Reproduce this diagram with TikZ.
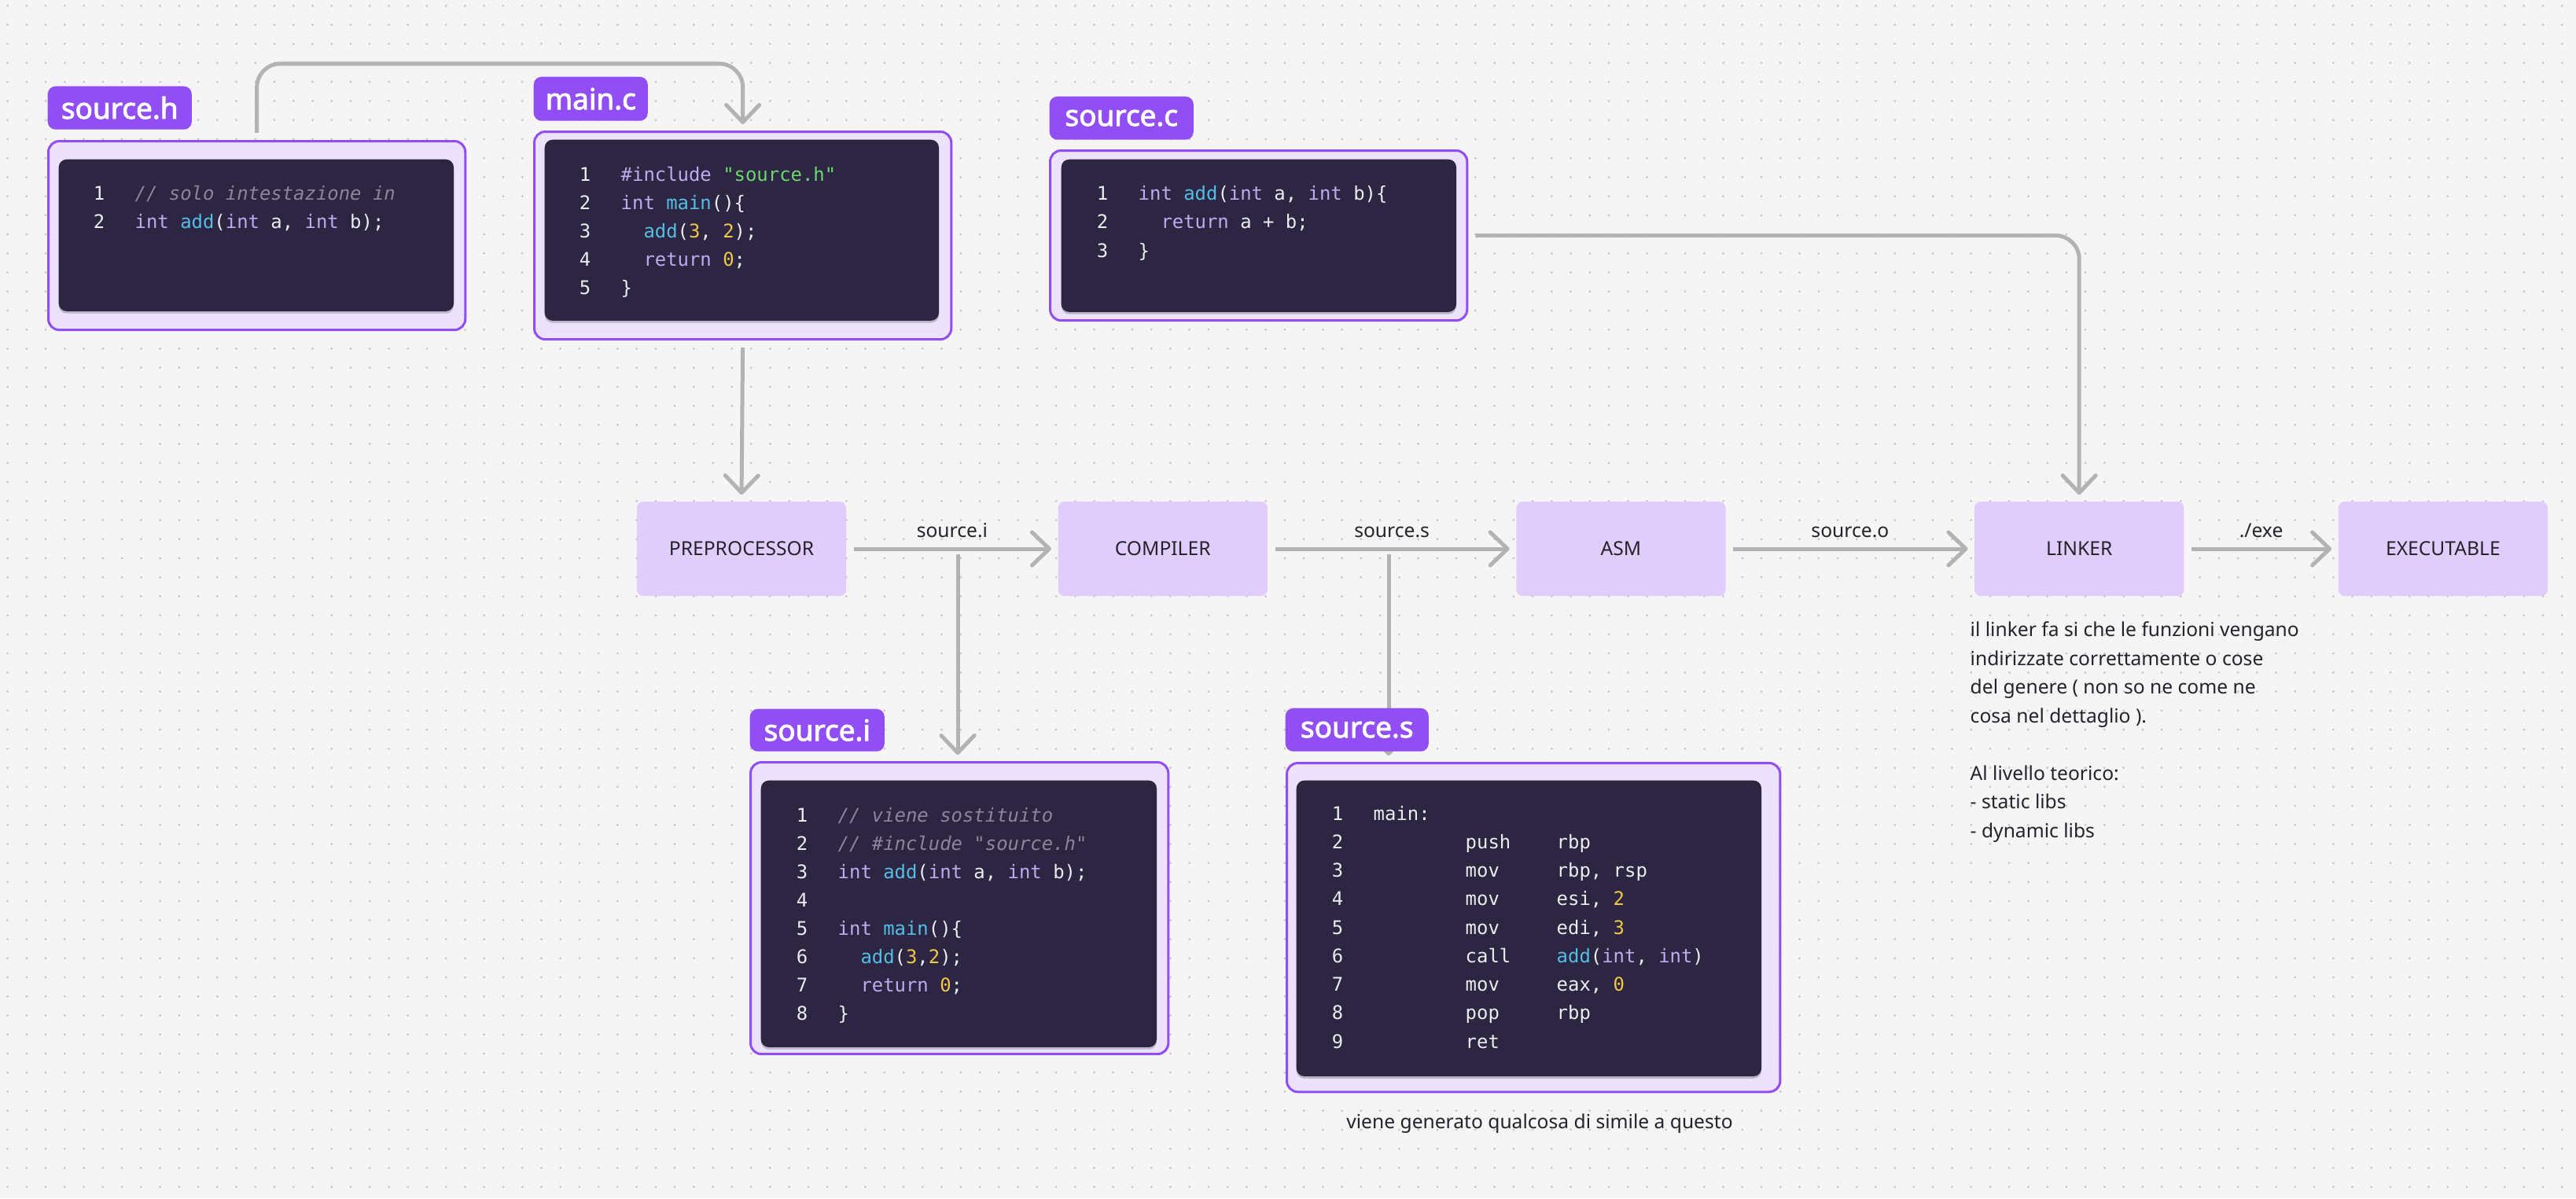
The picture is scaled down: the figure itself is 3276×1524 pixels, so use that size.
\documentclass[tikz,border=0pt]{standalone}
\usepackage{fontspec}
\setmainfont{Noto Sans}[AutoFakeBold=2.5]
\setmonofont{DejaVu Sans Mono}
\usetikzlibrary{positioning,arrows.meta,shadows}
\definecolor{pgBack}{RGB}{245,245,245}
\definecolor{pgDot}{RGB}{196,196,196}
\definecolor{pgPurple}{RGB}{146,78,245}
\definecolor{pgPanel}{RGB}{236,226,252}
\definecolor{pgStage}{RGB}{224,205,251}
\definecolor{pgDark}{RGB}{45,38,66}
\definecolor{pgArrow}{RGB}{179,179,179}
\definecolor{pgInk}{RGB}{38,34,44}
\definecolor{cdText}{RGB}{236,236,240}
\definecolor{cdKw}{RGB}{190,170,240}
\definecolor{cdFn}{RGB}{84,190,230}
\definecolor{cdNum}{RGB}{240,200,70}
\definecolor{cdStr}{RGB}{110,215,110}
\definecolor{cdCom}{RGB}{140,134,156}
\newcommand{\cKw}[1]{\textcolor{cdKw}{#1}}
\newcommand{\cFn}[1]{\textcolor{cdFn}{#1}}
\newcommand{\cNum}[1]{\textcolor{cdNum}{#1}}
\newcommand{\cStr}[1]{\textcolor{cdStr}{#1}}
\newcommand{\cCom}[1]{\textcolor{cdCom}{\itshape #1}}
\newcommand{\cInd}{\hspace*{1.204em}}

\begin{document}
\begin{tikzpicture}[x=0.01cm, y=-0.01cm,
  tag/.style={fill=pgPurple, rounded corners=0.1cm, text=white, font=\fontsize{10.5}{12}\selectfont\bfseries, inner sep=0pt, anchor=north west},
  panel/.style={fill=pgPanel, draw=pgPurple, line width=0.03cm, rounded corners=0.14cm, inner sep=0pt, anchor=north west},
  codebox/.style={fill=pgDark, rounded corners=0.1cm, inner sep=0pt, anchor=north west, drop shadow={shadow xshift=0pt, shadow yshift=-0.8pt, opacity=0.2, fill=black}},
  lnum/.style={text=cdText, font=\ttfamily\fontsize{6.8}{8}\selectfont, inner sep=0pt, anchor=base},
  codeline/.style={lnum, anchor=base west},
  stage/.style={fill=pgStage, rounded corners=0.08cm, minimum width=2.66cm, minimum height=1.2cm, text=pgInk, font=\fontsize{7}{8.4}\selectfont, inner sep=0pt},
  flow/.style={draw=pgArrow, line width=0.05cm, rounded corners=0.3cm, -{Straight Barb[length=0.22cm, width=0.42cm, round]}, shorten <=0.09cm, shorten >=0.08cm},
  lbl/.style={text=pgInk, font=\fontsize{7}{8.4}\selectfont, inner sep=0pt, above=0.12cm},
  note/.style={text=pgInk, font=\fontsize{7}{10.4}\selectfont, inner sep=0pt, align=left}]

  % background with dot grid
  \fill[pgBack] (0,0) rectangle (3276,1524);
  \useasboundingbox (0,0) rectangle (3276,1524);
  \foreach \r in {0,...,62}
    \draw[pgDot, line width=0.03cm, line cap=round, dash pattern=on 0pt off 0.2423cm] (9.6,{7.3+24.23*\r}) -- (3276,{7.3+24.23*\r});

  % source panels
  \node[panel, minimum width=5.30cm, minimum height=2.40cm] (hPanel) at (60,178) {};
  \node[codebox, minimum width=5.02cm, minimum height=1.93cm] (hCode) at (74,202) {};
  \node[panel, minimum width=5.30cm, minimum height=2.64cm] (mPanel) at (678,166) {};
  \node[codebox, minimum width=5.01cm, minimum height=2.30cm] (mCode) at (692,177) {};
  \node[panel, minimum width=5.30cm, minimum height=2.16cm] (cPanel) at (1334,190) {};
  \node[codebox, minimum width=5.02cm, minimum height=1.94cm] (cCode) at (1349,202) {};
  \node[panel, minimum width=5.31cm, minimum height=3.71cm] (iPanel) at (953,968) {};
  \node[codebox, minimum width=5.03cm, minimum height=3.39cm] (iCode) at (967,992) {};
  \node[panel, minimum width=6.27cm, minimum height=4.18cm] (sPanel) at (1635,969) {};
  \node[codebox, minimum width=5.91cm, minimum height=3.76cm] (sCode) at (1648,992) {};

  % source.h
  \foreach \txt [count=\i] in {{\cCom{// solo intestazione in}}, {\cKw{int} \cFn{add}(\cKw{int} a, \cKw{int} b);}}{
    \node[lnum] (hN\i) at (126,{254+36*(\i-1)}) {\i};
    \node[codeline] (hT\i) at (171,{254+36*(\i-1)}) {\txt};
  }
  % main.c
  \foreach \txt [count=\i] in {{\cKw{\#include} \cStr{"source.h"}}, {\cKw{int} \cFn{main}()\{}, {\cInd\cFn{add}(\cNum{3}, \cNum{2});}, {\cInd\cKw{return} \cNum{0};}, {\}}}{
    \node[lnum] (mN\i) at (744,{230+36*(\i-1)}) {\i};
    \node[codeline] (mT\i) at (789,{230+36*(\i-1)}) {\txt};
  }
  % source.c
  \foreach \txt [count=\i] in {{\cKw{int} \cFn{add}(\cKw{int} a, \cKw{int} b)\{}, {\cInd\cKw{return} a + b;}, {\}}}{
    \node[lnum] (cN\i) at (1402,{254+36.5*(\i-1)}) {\i};
    \node[codeline] (cT\i) at (1447,{254+36.5*(\i-1)}) {\txt};
  }
  % source.i
  \foreach \txt [count=\i] in {{\cCom{// viene sostituito}}, {\cCom{// \#include "source.h"}}, {\cKw{int} \cFn{add}(\cKw{int} a, \cKw{int} b);}, {}, {\cKw{int} \cFn{main}()\{}, {\cInd\cFn{add}(\cNum{3},\cNum{2});}, {\cInd\cKw{return} \cNum{0};}, {\}}}{
    \node[lnum] (iN\i) at (1020,{1045+36.1*(\i-1)}) {\i};
    \node[codeline] (iT\i) at (1065,{1045+36.1*(\i-1)}) {\txt};
  }
  % source.s
  \node[lnum] (sN1) at (1701,1043) {1};
  \node[codeline] (sT1) at (1746,1043) {main:};
  \foreach \op/\arg [count=\i from 2] in {push/rbp, mov/{rbp, rsp}, mov/{esi, \cNum{2}}, mov/{edi, \cNum{3}}, call/{\cFn{add}(\cKw{int}, \cKw{int})}, mov/{eax, \cNum{0}}, pop/rbp, ret/{}}{
    \node[lnum] (sN\i) at (1701,{1043+36.25*(\i-1)}) {\i};
    \node[codeline] (sO\i) at (1863,{1043+36.25*(\i-1)}) {\op};
    \node[codeline] (sA\i) at (1979,{1043+36.25*(\i-1)}) {\arg};
  }

  % pipeline
  \node[stage] (pre) at (943,698) {PREPROCESSOR};
  \node[stage, right=2.68cm of pre] (comp) {COMPILER};
  \node[stage, right=3.15cm of comp] (asm) {ASM};
  \node[stage, right=3.15cm of asm] (link) {LINKER};
  \node[stage, right=1.95cm of link] (exe) {EXECUTABLE};

  \draw[flow] (hPanel.north) -- ++(0,-97) -| (mPanel.north);
  \draw[flow] (mPanel.south) -- (pre.north);
  \draw[flow] (cPanel.east) -| (link.north);
  \draw[flow] (pre) -- node[lbl] {source.i} (comp);
  \draw[flow] (comp) -- node[lbl] {source.s} (asm);
  \draw[flow] (asm) -- node[lbl] {source.o} (link);
  \draw[flow] (link) -- node[lbl] {./exe} (exe);

  \coordinate (iFork) at (1218,698);
  \coordinate (sFork) at (1766,698);
  \draw[flow, shorten <=0.07cm] (iFork) -- (iFork |- iPanel.north);
  \draw[flow, shorten <=0.07cm] (sFork) -- (sFork |- sPanel.north);

  % file tags
  \node[tag, minimum width=1.83cm, minimum height=0.55cm] (hTag) at (60,109) {source.h};
  \node[tag, minimum width=1.45cm, minimum height=0.56cm] (mTag) at (678,97) {main.c};
  \node[tag, minimum width=1.83cm, minimum height=0.55cm] (cTag) at (1334,122) {source.c};
  \node[tag, minimum width=1.71cm, minimum height=0.54cm] (iTag) at (953,901) {source.i};
  \node[tag, minimum width=1.82cm, minimum height=0.55cm] (sTag) at (1634,900) {source.s};

  % notes
  \node[note, anchor=north west] (linkNote) at (2505,790) {il linker fa si che le funzioni vengano\\
    indirizzate correttamente o cose\\
    del genere ( non so ne come ne\\
    cosa nel dettaglio ).\\[10.4pt]
    Al livello teorico:\\
    - static libs\\
    - dynamic libs};
  \node[note] (sNote) at (1958,1429) {viene generato qualcosa di simile a questo};
\end{tikzpicture}
\end{document}
